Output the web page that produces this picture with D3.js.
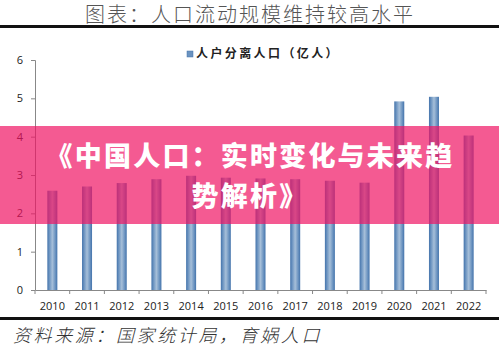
<!DOCTYPE html>
<html><head><meta charset="utf-8">
<script src="https://cdn.jsdelivr.net/npm/d3@7/dist/d3.min.js"></script>
<style>
html,body{margin:0;padding:0;background:#fff;}
svg{display:block;}
</style></head>
<body>
<script>
const years = ["2010","2011","2012","2013","2014","2015","2016","2017","2018","2019","2020","2021","2022"];
const values = [2.59,2.70,2.79,2.89,2.98,2.93,2.91,2.89,2.85,2.80,4.92,5.04,4.03];
const yTicks = [0,1,2,3,4,5,6];
const seriesName = "人户分离人口（亿人）";
const titleText = "图表：人口流动规模维持较高水平";
const sourceText = "资料来源：国家统计局，育娲人口";
const bannerLines = ["《中国人口：实时变化与未来趋","势解析》"];

const W = 499, H = 351;
const svg = d3.select("body").append("svg").attr("width", W).attr("height", H);
const defs = svg.append("defs");
const grad = defs.append("linearGradient").attr("id","barg").attr("x1","0").attr("x2","1").attr("y1","0").attr("y2","0");
grad.append("stop").attr("offset","0%").attr("stop-color","#4373ab");
grad.append("stop").attr("offset","20%").attr("stop-color","#6b93c0");
grad.append("stop").attr("offset","50%").attr("stop-color","#a6bfd9");
grad.append("stop").attr("offset","80%").attr("stop-color","#6b93c0");
grad.append("stop").attr("offset","100%").attr("stop-color","#4373ab");

svg.append("rect").attr("width",W).attr("height",H).attr("fill","#fff");

// title
svg.append("text").attr("x",250).attr("y",22).attr("text-anchor","middle")
  .attr("font-family","'Noto Sans CJK SC'").attr("font-weight",300).attr("font-size",20)
  .attr("letter-spacing",2).attr("fill","#555").text(titleText);
svg.append("rect").attr("x",0).attr("y",25).attr("width",W).attr("height",3).attr("fill","#111");

const x = d3.scaleBand().domain(years).range([35,486]).paddingInner(0).paddingOuter(0);
const y = d3.scaleLinear().domain([0,6]).range([290,60]);

// bars
svg.append("g").selectAll("rect").data(values).join("rect")
  .attr("x",(d,i)=>x(years[i]) + x.bandwidth()/2 - 5)
  .attr("width",10)
  .attr("y",d=>y(d))
  .attr("height",d=>y(0)-y(d))
  .attr("fill","url(#barg)");

// y axis
const yAxis = d3.axisLeft(y).tickValues(yTicks).tickSize(4).tickPadding(8).tickFormat(d3.format("d"));
const gy = svg.append("g").attr("transform","translate(35,0)").call(yAxis);
gy.select(".domain").attr("stroke","#888").attr("d","M-4,60.5H0.5V290.5");
gy.selectAll(".tick line").attr("stroke","#888");
gy.selectAll(".tick text").attr("font-family","'Open Sans'").attr("font-size",11).attr("fill","#222");

// x axis
const xAxis = d3.axisBottom(x).tickSize(0).tickPadding(12);
const gx = svg.append("g").attr("transform","translate(0,290)").call(xAxis);
gx.select(".domain").attr("stroke","#888");
gx.selectAll(".tick text").attr("font-family","'Open Sans'").attr("font-size",11).attr("fill","#222");
const bounds = years.map(d=>x(d)).concat([x(years[years.length-1])+x.bandwidth()]);
gx.append("g").selectAll("line").data(bounds).join("line")
  .attr("x1",d=>d).attr("x2",d=>d).attr("y1",0).attr("y2",4).attr("stroke","#888");

// legend
svg.append("rect").attr("x",187).attr("y",51).attr("width",6).attr("height",6).attr("fill","#6b93c0").attr("stroke","#4373ab").attr("stroke-width",0.5);
svg.append("text").attr("x",196).attr("y",58).attr("font-family","'Noto Sans CJK SC'").attr("font-weight",700)
  .attr("font-size",12).attr("letter-spacing",2.4).attr("fill","#222").text(seriesName);

// bottom line + source
svg.append("rect").attr("x",0).attr("y",317).attr("width",W).attr("height",3).attr("fill","#111");
svg.append("text").attr("x",13).attr("y",342).attr("font-family","'Noto Sans CJK SC'").attr("font-weight",300)
  .attr("font-style","italic").attr("font-size",18).attr("letter-spacing",2.6)
  .attr("fill","#333").text(sourceText);

// banner overlay
svg.append("rect").attr("x",0).attr("y",126).attr("width",W).attr("height",98).attr("fill","rgb(240,20,100)").attr("fill-opacity",0.7);
svg.append("g").selectAll("text").data(bannerLines).join("text")
  .attr("x",250).attr("y",(d,i)=>166+i*40).attr("text-anchor","middle")
  .attr("font-family","'Noto Sans CJK SC'").attr("font-weight",900).attr("font-size",27)
  .attr("letter-spacing",2.2)
  .attr("fill","#fff").text(d=>d);
</script>
</body></html>
